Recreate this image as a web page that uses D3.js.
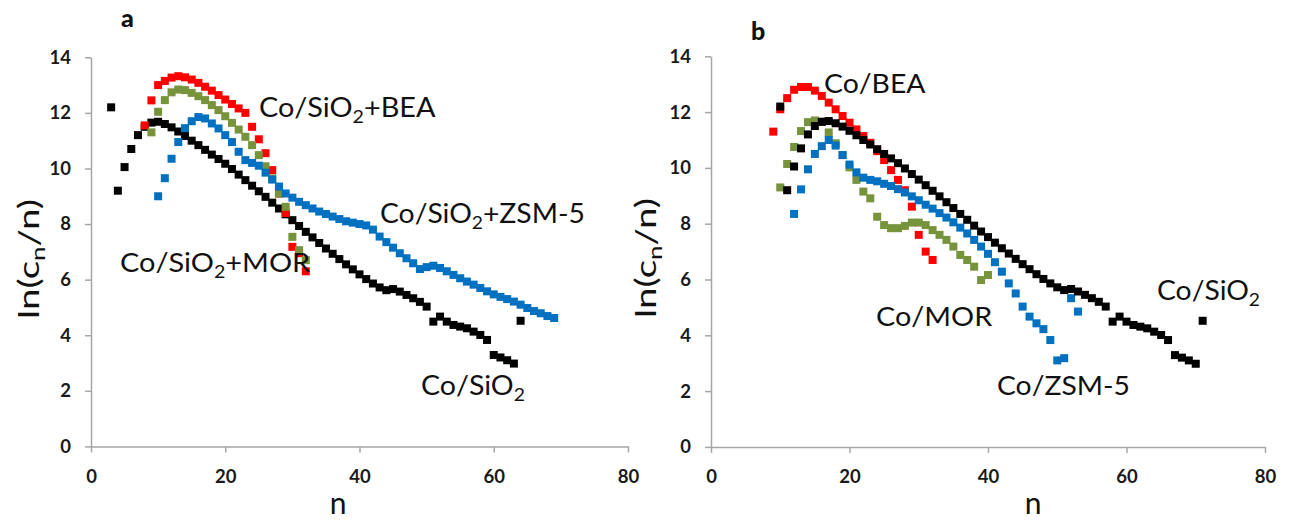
<!DOCTYPE html>
<html><head><meta charset="utf-8">
<script src="https://cdn.jsdelivr.net/npm/d3@7/dist/d3.min.js"></script>
<style>body{margin:0;background:#fff}svg{display:block}</style>
</head><body>
<svg id="c" width="1296" height="527"></svg>
<script>
// ---------- data ----------
const xTicks = [0, 20, 40, 60, 80];
const yTicks = [0, 2, 4, 6, 8, 10, 12, 14];

// Panel a
const nStartA_SiO2 = 3;
const lncA_SiO2 = [12.2, 9.2, 10.05, 10.7, 11.2, 11.5, 11.65, 11.68, 11.6, 11.48, 11.33, 11.17, 11.0, 10.84, 10.67,
  10.5, 10.34, 10.17, 9.98, 9.78, 9.58, 9.38, 9.18, 8.98, 8.77, 8.56, 8.35, 8.14, 7.93, 7.72, 7.52, 7.32, 7.12,
  6.93, 6.74, 6.55, 6.37, 6.19, 6.02, 5.86, 5.72, 5.62, 5.66, 5.57, 5.45, 5.33, 5.2, 5.03, 4.49, 4.67, 4.49, 4.37,
  4.31, 4.25, 4.13, 4.01, 3.83, 3.29, 3.2, 3.1, 2.98, 4.52];
const nStartA_BEA = 8;
const lncA_BEA = [11.55, 12.45, 13.0, 13.15, 13.27, 13.32, 13.28, 13.2, 13.08, 12.94, 12.8, 12.64, 12.48, 12.32,
  12.16, 12.0, 11.5, 11.05, 10.55, 9.94, 9.1, 8.4, 7.18, 6.95, 6.3];
const nStartA_MOR = 9;
const lncA_MOR = [11.3, 12.04, 12.46, 12.74, 12.84, 12.82, 12.72, 12.6, 12.46, 12.28, 12.1, 11.88, 11.64, 11.4,
  11.14, 10.84, 10.48, 10.08, 9.64, 9.1, 8.62, 7.54, 7.06, 6.7];
const nStartA_ZSM = 10;
const lncA_ZSM = [9.0, 9.65, 10.35, 10.95, 11.45, 11.7, 11.85, 11.8, 11.62, 11.44, 11.2, 10.95, 10.6, 10.3, 10.2,
  10.1, 9.85, 9.6, 9.35, 9.1, 8.95, 8.8, 8.68, 8.56, 8.45, 8.36, 8.27, 8.18, 8.1, 8.05, 8.0, 7.95, 7.8, 7.55, 7.35,
  7.15, 6.95, 6.77, 6.59, 6.38, 6.45, 6.5, 6.42, 6.3, 6.17, 6.05, 5.93, 5.82, 5.7, 5.58, 5.47, 5.38, 5.3, 5.21,
  5.1, 4.98, 4.87, 4.79, 4.69, 4.62];

// Panel b
const nStartB_SiO2 = 10;
const lncB_SiO2 = [12.2, 9.2, 10.05, 10.7, 11.2, 11.5, 11.65, 11.68, 11.6, 11.48, 11.33, 11.17, 11.0, 10.84, 10.67,
  10.5, 10.34, 10.17, 9.98, 9.78, 9.58, 9.38, 9.18, 8.98, 8.77, 8.56, 8.35, 8.14, 7.93, 7.72, 7.52, 7.32, 7.12,
  6.93, 6.74, 6.55, 6.37, 6.19, 6.02, 5.86, 5.72, 5.62, 5.66, 5.57, 5.45, 5.33, 5.2, 5.03, 4.49, 4.67, 4.49, 4.37,
  4.31, 4.25, 4.13, 4.01, 3.83, 3.29, 3.2, 3.1, 2.98, 4.52];
const nStartB_BEA = 9;
const lncB_BEA = [11.3, 12.1, 12.5, 12.8, 12.9, 12.9, 12.77, 12.58, 12.34, 12.1, 11.86, 11.62, 11.38, 11.14, 10.9,
  10.6, 10.28, 9.92, 9.57, 9.2, 8.61, 7.6, 7.0, 6.7];
const nStartB_MOR = 10;
const lncB_MOR = [9.3, 10.14, 10.75, 11.32, 11.64, 11.7, 11.66, 11.27, 10.88, 10.46, 10.02, 9.57, 9.15, 8.91, 8.25,
  7.95, 7.84, 7.84, 7.92, 8.04, 8.04, 7.95, 7.77, 7.6, 7.42, 7.18, 6.88, 6.7, 6.46, 5.98, 6.16];
const nStartB_ZSM = 12;
const lncB_ZSM = [8.35, 9.23, 9.95, 10.5, 10.78, 11.0, 10.8, 10.46, 10.12, 9.84, 9.65, 9.57, 9.52, 9.43, 9.35, 9.24,
  9.12, 8.98, 8.84, 8.68, 8.54, 8.38, 8.22, 8.05, 7.86, 7.65, 7.42, 7.18, 6.92, 6.62, 6.28, 5.86, 5.5, 5.03, 4.67,
  4.43, 4.22, 3.83, 3.1, 3.18, 5.33, 4.85];

const colors = {SiO2: "#000000", BEA: "#ff0000", MOR: "#77933c", ZSM: "#0070c0"};

const labelsA = [
  {parts: ["Co/SiO", "2", "+BEA"], x: 259, y: 117.5, w: 177},
  {parts: ["Co/SiO", "2", "+ZSM-5"], x: 380, y: 223, w: 205},
  {parts: ["Co/SiO", "2", "+MOR"], x: 120, y: 272, w: 191},
  {parts: ["Co/SiO", "2"], x: 421, y: 395, w: 104}
];
const labelsB = [
  {parts: ["Co/BEA"], x: 824, y: 93, w: 102},
  {parts: ["Co/MOR"], x: 876, y: 326.5, w: 117},
  {parts: ["Co/ZSM-5"], x: 997, y: 395, w: 133},
  {parts: ["Co/SiO", "2"], x: 1157, y: 300, w: 103}
];
const yTitleParts = ["ln(c", "n", "/n)"];
const xTitle = "n";

// ---------- drawing ----------
const svg = d3.select("#c");
const FONT = "Lato, 'Open Sans', sans-serif";
const MS = 8;

function mk(start, vals) { return vals.map((v, i) => ({n: start + i, v})); }

function fitX(sel, x, w) {
  const bb = sel.node().getBBox();
  const s = w / bb.width;
  sel.attr("transform", `translate(${x},0) scale(${s},1) translate(${-x},0)`);
}

function addParts(t, parts) {
  parts.forEach((p, i) => {
    if (i % 2 === 1) {
      t.append("tspan").attr("dy", 6).attr("font-size", "0.68em").text(p);
    } else {
      t.append("tspan").attr("dy", i === 0 ? 0 : -6).text(p);
    }
  });
}

function panel(cfg) {
  const x = d3.scaleLinear().domain([0, 80]).range(cfg.xr);
  const y = d3.scaleLinear().domain([0, 14]).range(cfg.yr);
  const g = svg.append("g");

  const ax = g.append("g").attr("transform", `translate(0,${cfg.yr[0]})`)
    .call(d3.axisBottom(x).tickValues(xTicks).tickSize(6).tickPadding(17).tickSizeOuter(0));
  const ay = g.append("g").attr("transform", `translate(${cfg.xr[0]},0)`)
    .call(d3.axisLeft(y).tickValues(yTicks).tickSize(6).tickPadding(14).tickSizeOuter(0));
  [ax, ay].forEach(a => {
    a.selectAll("path,line").attr("stroke", "#a6a6a6").attr("stroke-width", 1.5);
    a.selectAll("text").attr("font-family", FONT).attr("font-weight", "bold")
      .attr("font-size", 18.5).attr("fill", "#1a1a1a");
  });

  cfg.series.forEach(s => {
    g.append("g").selectAll("rect").data(s.data).join("rect")
      .attr("x", d => x(d.n) - MS / 2).attr("y", d => y(d.v) - MS / 2)
      .attr("width", MS).attr("height", MS).attr("fill", s.color);
  });

  cfg.labels.forEach(l => {
    const t = g.append("text").attr("x", l.x).attr("y", l.y)
      .attr("font-family", FONT).attr("font-size", 26).attr("fill", "#111");
    addParts(t, l.parts);
    fitX(t, l.x, l.w);
  });

  // y title
  const yt = g.append("text").attr("font-family", FONT).attr("font-size", 28).attr("fill", "#111")
    .attr("text-anchor", "middle").attr("x", 0).attr("y", 0);
  addParts(yt, yTitleParts);
  const bb = yt.node().getBBox();
  const sc = cfg.ytw / bb.width;
  yt.attr("transform", `translate(${cfg.ytx},${cfg.yty}) rotate(-90) scale(${sc},1)`);

  g.append("text").attr("x", cfg.xtx).attr("y", 514).attr("text-anchor", "middle")
    .attr("font-family", FONT).attr("font-size", 30).attr("fill", "#111").text(xTitle);

  g.append("text").attr("x", cfg.tag.x).attr("y", cfg.tag.y).attr("font-family", FONT)
    .attr("font-weight", "900").attr("font-size", 25).attr("fill", "#111").text(cfg.tag.t);
}

panel({
  xr: [91, 628], yr: [446.4, 57.3],
  series: [
    {color: colors.SiO2, data: mk(nStartA_SiO2, lncA_SiO2)},
    {color: colors.BEA, data: mk(nStartA_BEA, lncA_BEA)},
    {color: colors.MOR, data: mk(nStartA_MOR, lncA_MOR)},
    {color: colors.ZSM, data: mk(nStartA_ZSM, lncA_ZSM)}
  ],
  labels: labelsA, ytx: 39, yty: 259, ytw: 120, xtx: 338,
  tag: {t: "a", x: 121, y: 27}
});
panel({
  xr: [711, 1265], yr: [446.9, 56.3],
  series: [
    {color: colors.BEA, data: mk(nStartB_BEA, lncB_BEA)},
    {color: colors.MOR, data: mk(nStartB_MOR, lncB_MOR)},
    {color: colors.ZSM, data: mk(nStartB_ZSM, lncB_ZSM)},
    {color: colors.SiO2, data: mk(nStartB_SiO2, lncB_SiO2)}
  ],
  labels: labelsB, ytx: 656, yty: 258, ytw: 120, xtx: 1033,
  tag: {t: "b", x: 751, y: 40}
});
</script>
</body></html>
